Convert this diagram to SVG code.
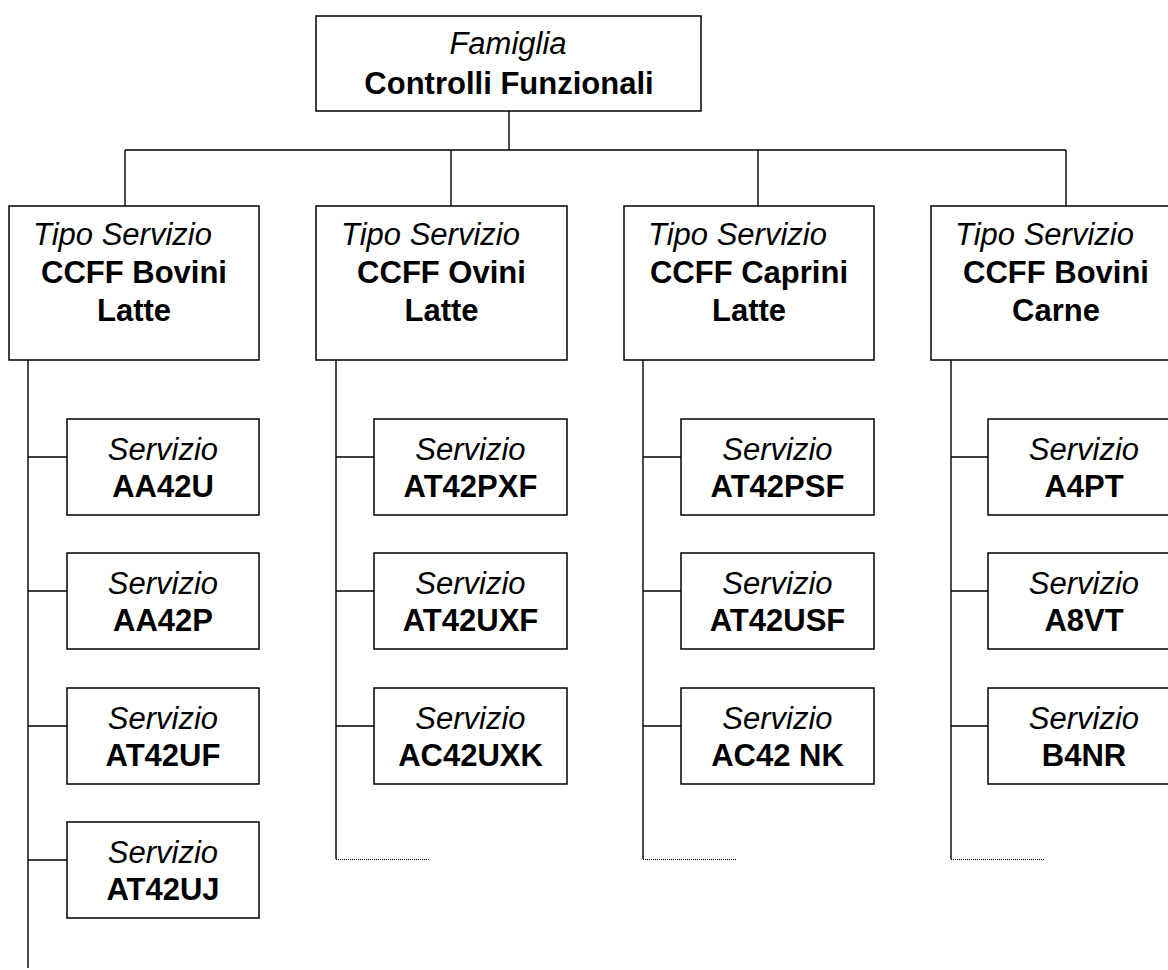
<svg xmlns="http://www.w3.org/2000/svg" width="1168" height="970" viewBox="0 0 1168 970">
<style>
.box{fill:#fff;stroke:#000;stroke-width:1.5}
.ln{stroke:#000;stroke-width:1.4;fill:none}
.dot{stroke:#000;stroke-width:1;stroke-dasharray:1 1;fill:none}
.it{font-family:"Liberation Sans",Arial,sans-serif;font-style:italic;font-size:31px;fill:#000}
.bd{font-family:"Liberation Sans",Arial,sans-serif;font-weight:bold;font-size:31px;fill:#000}
.c{text-anchor:middle}
</style>
<rect width="1168" height="970" fill="#fff"/>
<g id="connectors">
<path class="ln" d="M509 111V150M125 150H1066M125 150V206M451 150V206M758 150V206M1066 150V206"/>
<path class="ln" d="M28 360V968M28 457H67M28 591H67M28 726H67M28 860H67"/>
<path class="ln" d="M336 360V859M336 457H374M336 591H374M336 726H374"/>
<path class="ln" d="M643 360V859M643 457H681M643 591H681M643 726H681"/>
<path class="ln" d="M951 360V859M951 457H988M951 591H988M951 726H988"/>
<path class="dot" d="M336 859.5H430M643 859.5H737M951 859.5H1044"/>
</g>
<g id="famiglia">
<rect class="box" x="316" y="16" width="385" height="95"/>
<text class="it c" x="508" y="54">Famiglia</text>
<text class="bd c" x="509" y="94">Controlli Funzionali</text>
</g>
<g id="tipo1">
<rect class="box" x="9" y="206" width="250" height="154"/>
<text class="it" x="33" y="245">Tipo Servizio</text>
<text class="bd c" x="134" y="283">CCFF Bovini</text>
<text class="bd c" x="134" y="321">Latte</text>
</g>
<g id="tipo2">
<rect class="box" x="316" y="206" width="251" height="154"/>
<text class="it" x="341" y="245">Tipo Servizio</text>
<text class="bd c" x="441.5" y="283">CCFF Ovini</text>
<text class="bd c" x="441.5" y="321">Latte</text>
</g>
<g id="tipo3">
<rect class="box" x="624" y="206" width="250" height="154"/>
<text class="it" x="648" y="245">Tipo Servizio</text>
<text class="bd c" x="749" y="283">CCFF Caprini</text>
<text class="bd c" x="749" y="321">Latte</text>
</g>
<g id="tipo4">
<rect class="box" x="931" y="206" width="250" height="154"/>
<text class="it" x="955" y="245">Tipo Servizio</text>
<text class="bd c" x="1056" y="283">CCFF Bovini</text>
<text class="bd c" x="1056" y="321">Carne</text>
</g>
<g id="s-AA42U"><rect class="box" x="67" y="419" width="192" height="96"/><text class="it c" x="163" y="460">Servizio</text><text class="bd c" x="163" y="497">AA42U</text></g>
<g id="s-AA42P"><rect class="box" x="67" y="553" width="192" height="96"/><text class="it c" x="163" y="594">Servizio</text><text class="bd c" x="163" y="631">AA42P</text></g>
<g id="s-AT42UF"><rect class="box" x="67" y="688" width="192" height="96"/><text class="it c" x="163" y="729">Servizio</text><text class="bd c" x="163" y="766">AT42UF</text></g>
<g id="s-AT42UJ"><rect class="box" x="67" y="822" width="192" height="96"/><text class="it c" x="163" y="863">Servizio</text><text class="bd c" x="163" y="900">AT42UJ</text></g>
<g id="s-AT42PXF"><rect class="box" x="374" y="419" width="193" height="96"/><text class="it c" x="470.5" y="460">Servizio</text><text class="bd c" x="470.5" y="497">AT42PXF</text></g>
<g id="s-AT42UXF"><rect class="box" x="374" y="553" width="193" height="96"/><text class="it c" x="470.5" y="594">Servizio</text><text class="bd c" x="470.5" y="631">AT42UXF</text></g>
<g id="s-AC42UXK"><rect class="box" x="374" y="688" width="193" height="96"/><text class="it c" x="470.5" y="729">Servizio</text><text class="bd c" x="470.5" y="766">AC42UXK</text></g>
<g id="s-AT42PSF"><rect class="box" x="681" y="419" width="193" height="96"/><text class="it c" x="777.5" y="460">Servizio</text><text class="bd c" x="777.5" y="497">AT42PSF</text></g>
<g id="s-AT42USF"><rect class="box" x="681" y="553" width="193" height="96"/><text class="it c" x="777.5" y="594">Servizio</text><text class="bd c" x="777.5" y="631">AT42USF</text></g>
<g id="s-AC42NK"><rect class="box" x="681" y="688" width="193" height="96"/><text class="it c" x="777.5" y="729">Servizio</text><text class="bd c" x="777.5" y="766">AC42 NK</text></g>
<g id="s-A4PT"><rect class="box" x="988" y="419" width="193" height="96"/><text class="it c" x="1084" y="460">Servizio</text><text class="bd c" x="1084" y="497">A4PT</text></g>
<g id="s-A8VT"><rect class="box" x="988" y="553" width="193" height="96"/><text class="it c" x="1084" y="594">Servizio</text><text class="bd c" x="1084" y="631">A8VT</text></g>
<g id="s-B4NR"><rect class="box" x="988" y="688" width="193" height="96"/><text class="it c" x="1084" y="729">Servizio</text><text class="bd c" x="1084" y="766">B4NR</text></g>
</svg>
